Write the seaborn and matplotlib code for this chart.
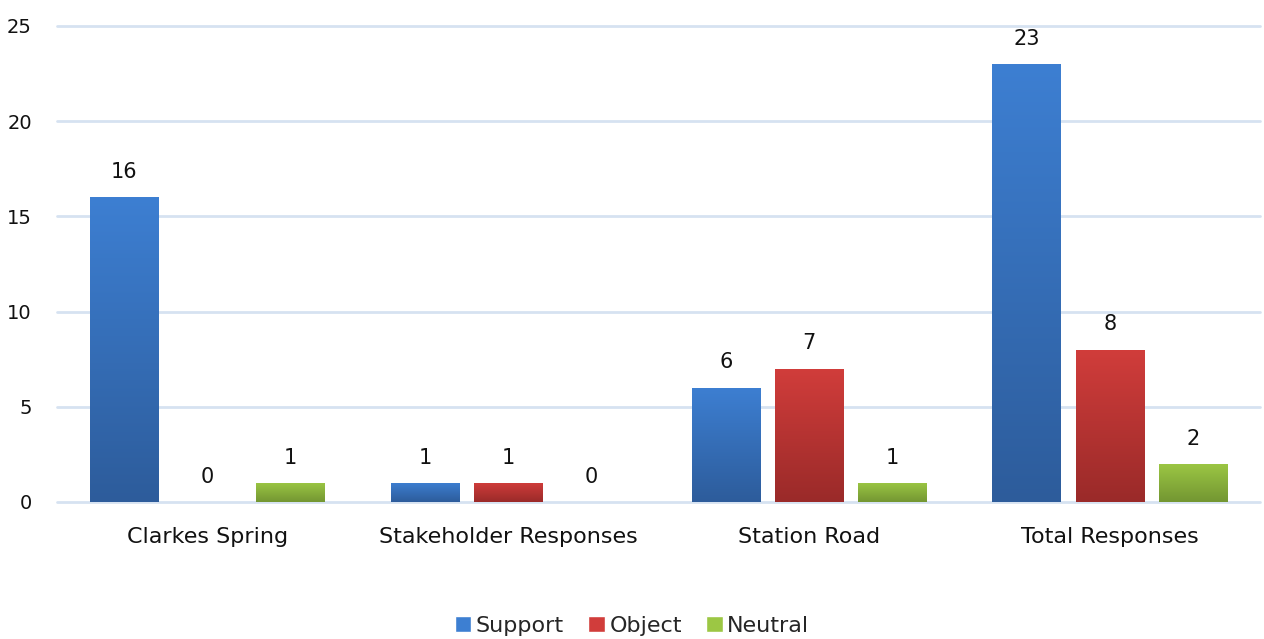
"""Consultation responses grouped bar chart."""

import matplotlib

matplotlib.use("Agg")
import matplotlib.pyplot as plt
import numpy as np
import pandas as pd
import seaborn as sns
from matplotlib.colors import LinearSegmentedColormap
from matplotlib.patches import Patch

categories = ["Clarkes Spring", "Stakeholder Responses", "Station Road", "Total Responses"]
series_names = ["Support", "Object", "Neutral"]
support = [16, 1, 6, 23]
object_ = [0, 1, 7, 8]
neutral = [1, 0, 1, 2]
y_ticks = [0, 5, 10, 15, 20, 25]

# top / bottom colours of each gradient
gradients = {
    "Support": ("#3d7fd2", "#2d5c9b"),
    "Object": ("#d13d3b", "#9a2a29"),
    "Neutral": ("#9cc744", "#739632"),
}

df = pd.DataFrame(
    {
        "category": categories * 3,
        "series": [s for s in series_names for _ in categories],
        "value": support + object_ + neutral,
    }
)

sns.set_theme(style="white")
plt.rcParams["font.family"] = ["DejaVu Sans"]

fig = plt.figure(figsize=(12.64, 6.39), dpi=100)
ax = fig.add_axes([0.045, 0.2144, 0.952, 0.745])

sns.barplot(
    data=df, x="category", y="value", hue="series", hue_order=series_names,
    order=categories, width=0.83, gap=0.18,
    palette={k: v[0] for k, v in gradients.items()}, ax=ax, legend=False,
    linewidth=0,
)

ax.set_ylim(0, 25)
ax.set_xlim(-0.5, len(categories) - 0.5)
ax.set_yticks(y_ticks)
ax.grid(axis="y", color="#d6e2f1", linewidth=2, clip_on=False)
ax.set_axisbelow(True)
for side in ax.spines.values():
    side.set_visible(False)
ax.tick_params(axis="y", labelsize=14, pad=18, length=0, labelcolor="#111111")
ax.tick_params(axis="x", labelsize=16, pad=18, length=0, labelcolor="#111111")
ax.set_xlabel("")
ax.set_ylabel("")

# vertical gradients clipped to each bar
for name, container in zip(series_names, ax.containers):
    top, bottom = gradients[name]
    cmap = LinearSegmentedColormap.from_list(name, [bottom, top])
    grad = np.linspace(0, 1, 256).reshape(-1, 1)
    for bar in container:
        x0, w, h = bar.get_x(), bar.get_width(), bar.get_height()
        if h > 0:
            img = ax.imshow(grad, cmap=cmap, origin="lower", aspect="auto",
                            extent=[x0, x0 + w, 0, h], zorder=bar.get_zorder())
            img.set_clip_path(bar)
        ax.annotate(f"{h:g}", (x0 + w / 2, h), xytext=(0, 11),
                    textcoords="offset points", ha="center", va="bottom",
                    fontsize=15, color="#111111")

ax.set_xlim(-0.5, len(categories) - 0.5)
ax.set_ylim(0, 25)

handles = [Patch(facecolor=gradients[n][0], label=n) for n in series_names]
fig.legend(handles=handles, loc="lower center", bbox_to_anchor=(0.5, -0.026),
           ncol=3, frameon=False, fontsize=16, handlelength=0.75, handleheight=0.75,
           handletextpad=0.2, columnspacing=1.1)

fig.savefig("out.png", dpi=100)
